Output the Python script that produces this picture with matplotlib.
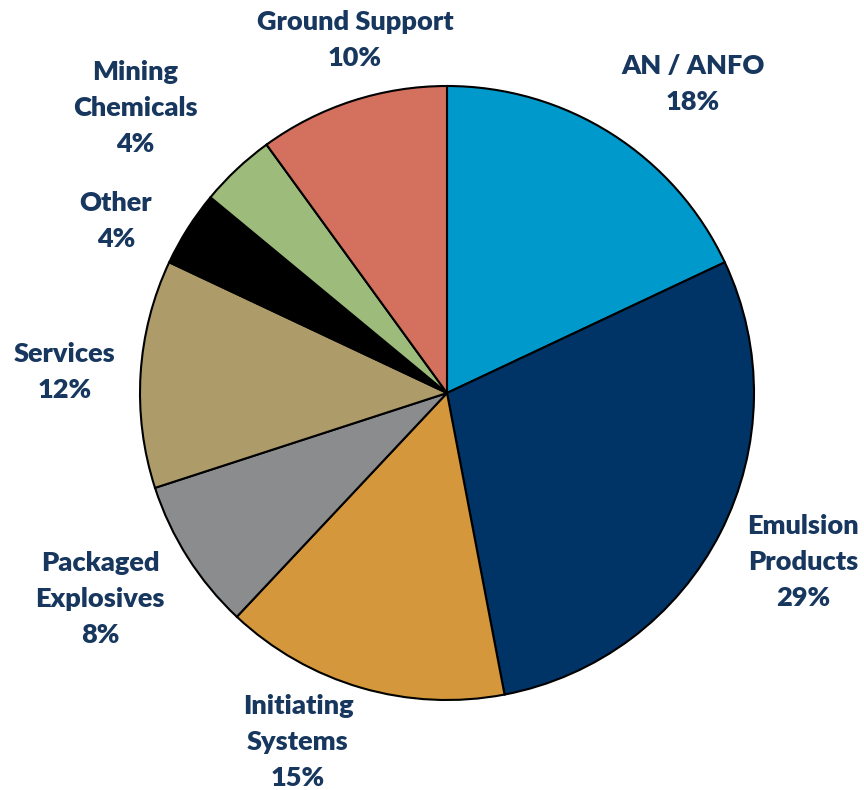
import matplotlib
matplotlib.use("Agg")
import matplotlib.pyplot as plt

# Fatias no sentido horário a partir do topo
categorias = ['AN / ANFO', 'Emulsion\nProducts', 'Initiating\nSystems', 'Packaged\nExplosives',
              'Services', 'Other', 'Mining\nChemicals', 'Ground Support']
percentuais = [18, 29, 15, 8, 12, 4, 4, 10]
cores = ['#0099CC', '#003366', '#D4973B', '#8A8C8E', '#AD9C6A', '#000000', '#9DBB7A', '#D4705E']

# posição (pixels) do centro de cada rótulo
pos_rotulos = [(693, 84), (803, 562), (298, 742), (100, 599),
               (65, 372), (116, 221), (135, 108), (355, 40)]

W, H = 864, 790
fig = plt.figure(figsize=(W / 100, H / 100), dpi=100)
ax = fig.add_axes([0, 0, 1, 1])

ax.pie(percentuais, colors=cores, startangle=90, counterclock=False,
       center=(447, H - 393), radius=307,
       wedgeprops=dict(edgecolor='black', linewidth=1.5))

# pie() mexe nos limites, então define depois
ax.set_xlim(0, W)
ax.set_ylim(0, H)
ax.set_aspect('equal')
ax.axis('off')

for cat, p, (x, y) in zip(categorias, percentuais, pos_rotulos):
    ax.text(x, H - y, f"{cat}\n{p}%", ha='center', va='center', fontsize=19.5,
            fontweight='heavy', family='Lato', color='#17375E', linespacing=1.58)

fig.savefig('out.png', dpi=100)
